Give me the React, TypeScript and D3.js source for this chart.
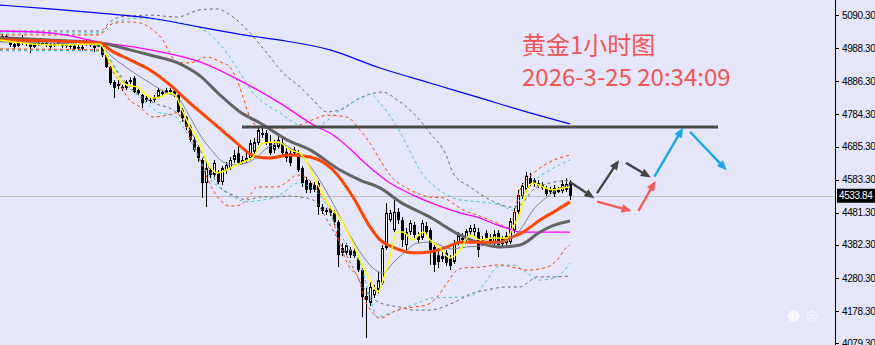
import React from "react";
import * as d3 from "d3";

// ---- candle data (1h gold) ----
const opens = [5020,5026,5013,5001,4995,5007,5004,5004,4992,5004,5001,5004,5001,4995,5001,5004,4998,4995,4995,4989,4992,4998,5004,4995,4995,
4995,4967,4930,4884,4872,4866,4866,4884,4896,4859,4844,4835,4829,4829,4838,4853,4850,4859,4856,4844,4798,4776,4746,4706,4684,
4644,4573,4613,4598,4607,4576,4613,4619,4644,4665,4638,4641,4650,4669,4696,4727,4727,4696,4675,4684,4696,4669,4665,4665,4665,
4619,4582,4573,4567,4573,4499,4490,4496,4481,4453,4373,4358,4367,4364,4342,4305,4225,4204,4228,4244,4265,4373,4459,4428,4484,
4459,4382,4422,4444,4410,4404,4441,4428,4376,4351,4348,4358,4342,4330,4391,4404,4398,4422,4422,4422,4388,4419,4404,4385,4419,
4385,4388,4391,4428,4484,4533,4552,4588,4582,4573,4567,4558,4545,4558,4545,4548,4552,4576];
const closes = [5026,5013,4998,4992,5007,5004,5001,4992,5004,5001,5004,4998,4992,5001,5007,4995,4995,4992,4986,4992,4986,5010,4998,4989,4998,
4967,4930,4881,4866,4878,4869,4884,4890,4853,4850,4819,4829,4826,4838,4859,4847,4859,4853,4844,4792,4773,4746,4706,4675,4650,
4573,4619,4598,4635,4576,4619,4629,4644,4659,4635,4644,4650,4696,4699,4736,4721,4696,4665,4690,4706,4665,4650,4635,4675,4613,
4573,4552,4552,4552,4499,4487,4484,4481,4453,4351,4358,4382,4351,4348,4305,4222,4213,4253,4244,4274,4373,4481,4481,4484,4459,
4398,4422,4450,4413,4398,4450,4422,4367,4321,4330,4339,4327,4318,4388,4413,4398,4425,4435,4435,4367,4398,4404,4391,4416,4382,
4401,4410,4456,4484,4536,4564,4595,4570,4570,4564,4558,4539,4552,4539,4552,4570,4570,4533.84];
const highs = [5032,5029,5016,5007,5013,5029,5010,5007,5007,5007,5010,5007,5004,5004,5013,5007,5004,5001,4998,4998,4998,5016,5007,5001,5004,
4998,4970,4933,4890,4890,4875,4890,4899,4902,4869,4847,4841,4835,4844,4866,4859,4866,4866,4862,4847,4804,4779,4752,4715,4690,
4650,4644,4622,4644,4613,4625,4638,4653,4675,4690,4656,4675,4706,4712,4746,4742,4736,4721,4706,4721,4712,4681,4675,4684,4675,
4625,4592,4579,4576,4579,4508,4496,4502,4490,4459,4388,4388,4376,4373,4351,4311,4250,4268,4259,4299,4382,4511,4490,4521,4496,
4468,4435,4459,4453,4422,4459,4453,4435,4382,4373,4370,4367,4351,4398,4422,4419,4431,4444,4447,4435,4410,4428,4416,4428,4428,
4410,4422,4465,4496,4552,4573,4607,4604,4588,4582,4576,4564,4561,4567,4561,4582,4588,4582];
const lows = [5013,5007,4992,4986,4992,4998,4995,4973,4989,4995,4998,4992,4986,4992,4998,4989,4989,4986,4980,4983,4980,4995,4992,4976,4992,
4961,4927,4875,4835,4862,4856,4859,4878,4850,4844,4804,4822,4819,4822,4835,4841,4847,4847,4838,4789,4761,4736,4699,4669,4638,
4527,4499,4588,4592,4570,4567,4601,4613,4635,4629,4632,4635,4644,4659,4690,4712,4690,4659,4665,4678,4659,4638,4625,4656,4607,
4561,4542,4542,4545,4475,4478,4475,4472,4444,4314,4348,4351,4342,4342,4299,4160,4096,4194,4219,4234,4259,4367,4453,4422,4447,
4376,4367,4413,4404,4388,4398,4413,4321,4299,4311,4330,4318,4305,4324,4382,4385,4391,4413,4410,4345,4379,4398,4382,4379,4373,
4379,4382,4385,4419,4478,4524,4545,4564,4561,4558,4552,4533,4539,4530,4542,4542,4545,4521];

// ---- indicator lines: [bar index, price] ----
const maBlue: [number, number][] = [[-0.5,5121],[12,5109],[24.5,5096],[37,5081],[49.5,5053],[62,5026],[69.5,5013],[82,4983],[94.5,4927],[107,4881],[119.5,4835],[132,4789],[142,4755]];
const maMagenta: [number, number][] = [[-0.5,5041],[12,5035],[24.5,5007],[37,4983],[49.5,4946],[62,4872],[69.5,4819],[78.75,4746],[82,4727],[92.75,4613],[97,4573],[102.75,4536],[108.75,4505],[114.5,4481],[119.5,4465],[123.75,4444],[127,4431],[129.5,4422],[142,4422]];
const maGrayThick: [number, number][] = [[-0.5,5020],[12,5013],[24.5,5004],[32,4983],[37,4967],[44.5,4940],[49.5,4903],[54.5,4844],[59.5,4792],[64.5,4758],[71.25,4706],[77,4675],[84.5,4613],[89.5,4582],[94.5,4558],[99.5,4515],[107,4468],[114.5,4413],[119.5,4388],[124.5,4376],[129.5,4382],[134.5,4422],[138.25,4444],[142,4456]];
const maOrange: [number, number][] = [[-0.5,5013],[24.5,5004],[27,4983],[32,4952],[37,4921],[42,4875],[47,4819],[52,4767],[57.75,4706],[63.75,4653],[67,4650],[72,4659],[77,4653],[82.75,4613],[87.75,4530],[92,4438],[94.5,4398],[97.75,4376],[102.75,4358],[107,4361],[111.25,4376],[114.5,4391],[124.5,4391],[127,4404],[130.25,4422],[134.5,4459],[138.75,4490],[142,4515]];
const maThinGray: [number, number][] = [[-0.5,5007],[12,5004],[24.5,4995],[27,4967],[32,4921],[37,4881],[41.25,4850],[43.75,4838],[47,4776],[49.5,4721],[52.75,4669],[55.25,4638],[58.25,4629],[61.25,4635],[63.75,4653],[66.25,4681],[69.5,4696],[72,4681],[74.5,4659],[77.75,4613],[82,4527],[86.25,4428],[89.5,4361],[92.75,4311],[95.25,4296],[97.75,4327],[100.75,4361],[103.75,4388],[107,4391],[109.5,4382],[112,4370],[116.25,4376],[121.25,4382],[126.25,4398],[129.5,4428],[132.75,4490],[136.25,4530],[139.5,4558],[142,4567]];
const maYellow: [number, number][] = [[-0.5,5013],[12,4998],[24.5,5001],[27,4943],[29.5,4890],[31.25,4875],[33.75,4869],[35.25,4853],[37.75,4835],[39.5,4838],[42,4850],[43.25,4844],[45,4798],[47,4746],[48.75,4715],[51.25,4638],[53.75,4604],[57,4619],[60.25,4638],[62.75,4653],[65.25,4696],[69,4699],[72,4675],[74.5,4665],[76.25,4635],[78.75,4573],[82,4499],[84.5,4465],[87,4407],[89.5,4336],[92,4274],[94,4238],[95.25,4274],[97,4345],[98.75,4422],[100.25,4422],[102.75,4398],[105.25,4422],[107,4398],[109.5,4373],[112,4342],[114.5,4367],[117,4413],[119.5,4398],[122.75,4404],[126.25,4404],[127.75,4438],[129.5,4481],[131.25,4552],[132.75,4573],[135.25,4561],[137.75,4552],[140.25,4558],[142,4561]];

const bandOrangeUp: [number, number][] = [[-0.5,5029],[24.5,5029],[25.5,5044],[27,5060],[28.75,5066],[31.25,5069],[34.5,5066],[37.75,5044],[40.25,5013],[42,4973],[43.75,4943],[47,4943],[51.25,4961],[54.5,4946],[57,4930],[58.75,4890],[60.25,4838],[62.75,4758],[66.25,4742],[70.75,4742],[74.5,4752],[78.75,4773],[81.25,4782],[86.25,4776],[89.5,4736],[92,4696],[94.5,4644],[97,4598],[102,4552],[107,4530],[110.25,4527],[115.25,4490],[120.25,4468],[123.75,4450],[127,4435],[128.25,4490],[129.5,4552],[133.25,4607],[137,4638],[142,4659]];
const bandOrangeLow: [number, number][] = [[-0.5,4986],[24.5,4983],[25.75,4967],[27,4930],[28.75,4899],[31.25,4838],[34.5,4807],[37.75,4776],[41.25,4782],[43.75,4789],[47,4721],[50.75,4604],[52.75,4552],[54.5,4521],[57,4502],[59.5,4505],[62,4536],[63.75,4561],[66.25,4561],[68.75,4561],[71.25,4576],[73.75,4598],[76.25,4588],[78.75,4552],[82,4490],[84.5,4382],[87,4311],[89,4284],[90.75,4213],[92.75,4173],[94.5,4157],[98.75,4182],[102.75,4191],[106.25,4198],[108.75,4222],[111.25,4265],[113.75,4305],[115.25,4311],[119.5,4314],[124.5,4321],[127.75,4314],[131.25,4305],[136.25,4314],[138.75,4336],[141.25,4376],[142,4382]];
const bandCyanUp: [number, number][] = [[-0.5,5035],[24.5,5035],[26.25,5044],[27.75,5066],[30.25,5075],[34.5,5081],[39.5,5075],[44.5,5066],[49.5,5050],[52.75,5023],[56.25,4973],[59.5,4912],[62.75,4850],[66.25,4813],[69.5,4789],[72.75,4761],[76.25,4742],[78.75,4746],[84.5,4798],[90.25,4838],[92,4847],[94.5,4819],[98.75,4746],[102.75,4653],[105.25,4598],[107.75,4567],[111.25,4536],[114.5,4521],[119.5,4515],[124.5,4505],[127.75,4490],[129.5,4521],[132,4567],[137,4613],[142,4644]];
const bandCyanLow: [number, number][] = [[-0.5,4980],[24.5,4980],[26.25,4967],[29.5,4899],[35.25,4829],[39.5,4789],[42.75,4782],[45.75,4736],[49.5,4644],[52.75,4576],[54.5,4558],[57.75,4530],[61.25,4515],[65.25,4521],[67.75,4527],[70.25,4542],[72.75,4567],[74,4573],[77,4561],[80.25,4521],[83.75,4435],[87,4367],[89.5,4327],[92,4222],[93.75,4161],[97.75,4176],[102.75,4198],[107.75,4219],[114.5,4222],[117.75,4228],[121.25,4274],[123.75,4314],[127.75,4321],[131.25,4296],[134.5,4274],[138.75,4284],[141.25,4314],[142,4327]];
const bandGrayUp: [number, number][] = [[-0.5,5041],[24.5,5041],[27,5069],[29.5,5084],[37,5090],[43.75,5084],[49.5,5106],[53.75,5109],[57.75,5084],[62,5035],[66.25,4973],[70.25,4912],[74.5,4869],[77.75,4829],[81.25,4792],[84.5,4798],[89.5,4835],[95.25,4853],[98.75,4829],[102.75,4789],[107,4727],[111.25,4653],[112.75,4604],[117,4561],[123.75,4511],[127,4499],[129.5,4505],[132.75,4552],[137,4573],[142,4582]];
const bandGrayLow: [number, number][] = [[-0.5,4983],[24.5,4980],[27,4952],[29.5,4906],[32.75,4859],[38.75,4816],[42.75,4798],[47,4736],[50.75,4644],[54.5,4561],[57.75,4536],[61.25,4521],[64.5,4530],[67.75,4530],[72,4533],[74.5,4530],[77.75,4521],[82,4444],[87,4330],[90.75,4244],[94.5,4204],[99.5,4191],[102.75,4182],[107,4182],[112.75,4204],[117.75,4234],[121.25,4244],[126.25,4253],[129.5,4253],[131.25,4265],[133.75,4284],[137.75,4284],[142,4287]];

// ---- axis ----
const tickValues = [5090.3, 4988.3, 4886.3, 4784.3, 4685.3, 4583.3, 4481.3, 4382.3, 4280.3, 4178.3, 4079.3];
const lastPrice = 4533.84;
const resistance = { from: 60, to: 179, price: 4745.5 };

// ---- annotation arrows: [fromIdx, fromPrice, toIdx, toPrice] ----
const arrowsDark = [[142, 4576, 148.1, 4526], [148.75, 4542, 154.25, 4644], [156, 4635, 162.2, 4590]];
const arrowsRed = [[148.8, 4516, 157.4, 4487], [159.1, 4487, 163.4, 4580]];
const arrowsBlue = [[163.1, 4593, 170.3, 4744], [172, 4731, 181.2, 4612]];

const titleLine1 = "黄金1小时图";
const titleLine2 = "2026-3-25 20:34:09";

const W = 875, H = 345;

function Arrow({ x1, y1, x2, y2, color }: { x1: number; y1: number; x2: number; y2: number; color: string }) {
  const dx = x2 - x1, dy = y2 - y1;
  const len = Math.hypot(dx, dy);
  const ux = dx / len, uy = dy / len;
  const hl = 10, hw = 4.2;
  const bx = x2 - ux * hl, by = y2 - uy * hl;
  const px = -uy, py = ux;
  const pts = `${x2},${y2} ${bx + px * hw},${by + py * hw} ${bx - px * hw},${by - py * hw}`;
  return (
    <g>
      <line x1={x1} y1={y1} x2={bx + ux * 2} y2={by + uy * 2} stroke={color} strokeWidth={2.4} />
      <polygon points={pts} fill={color} />
    </g>
  );
}

export default function App() {
  const x = d3.scaleLinear().domain([0, 142]).range([2, 570]);
  const y = d3.scaleLinear().domain([5090.3, 4079.3]).range([15, 343.4]);
  const line = d3.line<[number, number]>().x(d => x(d[0])).y(d => y(d[1])).curve(d3.curveMonotoneX);

  const axisX = 835;
  const dashed = "3,3";

  const candles = closes.map((c, i) => {
    const o = opens[i], h = highs[i], l = lows[i];
    const cx = Math.round(x(i));
    const top = y(Math.max(o, c)), bot = y(Math.min(o, c));
    const bull = c > o;
    const bh = Math.max(1, bot - top);
    return (
      <g key={i}>
        <line x1={cx + 0.5} x2={cx + 0.5} y1={y(h)} y2={y(l)} stroke="#000" strokeWidth={1} />
        {bull ? (
          <rect x={cx - 0.5} y={top + 0.5} width={2} height={Math.max(0.5, bh - 1)} fill="#fff" stroke="#000" strokeWidth={1} />
        ) : (
          <rect x={cx - 1} y={top} width={3} height={bh} fill="#000" />
        )}
      </g>
    );
  });

  const mk = (arr: number[][], color: string) =>
    arr.map((a, k) => <Arrow key={color + k} x1={x(a[0])} y1={y(a[1])} x2={x(a[2])} y2={y(a[3])} color={color} />);

  return (
    <svg width={W} height={H} style={{ position: "absolute", left: 0, top: 0 }} xmlns="http://www.w3.org/2000/svg">
      <rect x={0} y={0} width={W} height={H} fill="#E6E6FA" />
      {/* last price line */}
      <line x1={0} x2={axisX} y1={Math.round(y(lastPrice)) + 0.5} y2={Math.round(y(lastPrice)) + 0.5} stroke="#C0C0C0" strokeWidth={1} />

      {/* candles */}
      <g>{candles}</g>

      {/* bands */}
      <g fill="none" strokeWidth={1} strokeDasharray={dashed}>
        <path d={line(bandGrayUp) || ""} stroke="#6E6E6E" />
        <path d={line(bandGrayLow) || ""} stroke="#6E6E6E" />
        <path d={line(bandCyanUp) || ""} stroke="#40C8C8" />
        <path d={line(bandCyanLow) || ""} stroke="#40C8C8" />
        <path d={line(bandOrangeUp) || ""} stroke="#FF4500" />
        <path d={line(bandOrangeLow) || ""} stroke="#FF4500" />
      </g>

      {/* moving averages */}
      <g fill="none">
        <path d={line(maBlue) || ""} stroke="#0000FF" strokeWidth={1.2} />
        <path d={line(maMagenta) || ""} stroke="#FF00FF" strokeWidth={1.3} />
        <path d={line(maGrayThick) || ""} stroke="#646464" strokeWidth={3} />
        <path d={line(maOrange) || ""} stroke="#FF4500" strokeWidth={3} />
        <path d={line(maThinGray) || ""} stroke="#7C8796" strokeWidth={1} />
        <path d={line(maYellow) || ""} stroke="#FFFF00" strokeWidth={1.5} />
      </g>

      {/* resistance line */}
      <line x1={x(resistance.from)} x2={x(resistance.to)} y1={y(resistance.price)} y2={y(resistance.price)} stroke="#4A4A4A" strokeWidth={3} />

      {/* arrows */}
      {mk(arrowsDark, "#454545")}
      {mk(arrowsRed, "#F45A5A")}
      {mk(arrowsBlue, "#1AA7EE")}

      {/* title */}
      <g fontFamily="'Noto Sans CJK SC', 'Noto Sans', sans-serif" fontSize={24} fill="#F25555">
        <text x={522} y={54}>{titleLine1}</text>
        <text x={522} y={86}>{titleLine2}</text>
      </g>

      {/* axis */}
      <line x1={axisX + 0.5} x2={axisX + 0.5} y1={0} y2={H} stroke="#000" strokeWidth={1} />
      <g fontFamily="'Liberation Sans', Arial, sans-serif" fontSize={10} fill="#000" letterSpacing={-0.4}>
        {tickValues.map(v => (
          <g key={v}>
            <line x1={axisX} x2={axisX + 4} y1={Math.round(y(v)) + 0.5} y2={Math.round(y(v)) + 0.5} stroke="#000" />
            <text x={842} y={y(v)} dy="0.35em">{v.toFixed(2)}</text>
          </g>
        ))}
      </g>
      <rect x={837} y={y(lastPrice) - 7} width={38} height={14} fill="#000" />
      <text x={839} y={y(lastPrice)} dy="0.35em" fontFamily="'Liberation Sans', Arial, sans-serif" fontSize={10} fill="#fff" letterSpacing={-0.4}>
        {lastPrice.toFixed(2)}
      </text>

      {/* faint watermark */}
      <g opacity={0.75}>
        <circle cx={794} cy={316} r={6} fill="#fff" />
        <text x={806} y={320} fontFamily="'DejaVu Sans', sans-serif" fontSize={12} fill="#fff">@</text>
      </g>
    </svg>
  );
}
